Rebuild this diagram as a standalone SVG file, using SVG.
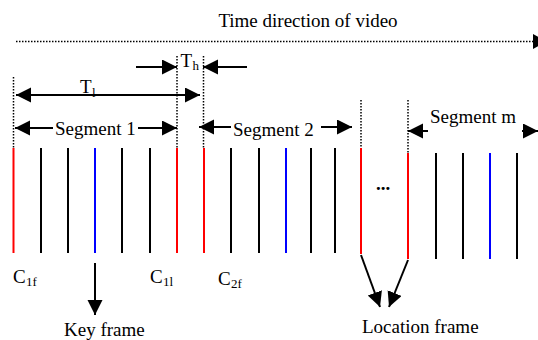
<svg xmlns="http://www.w3.org/2000/svg" width="538" height="340" viewBox="0 0 538 340">
<style>
text{font-family:"Liberation Serif","Times New Roman",serif;fill:#000}
.t{font-size:19px}
.s{font-size:13px}
.dot{stroke:#000;stroke-width:1.5;stroke-dasharray:1.5 1.5;fill:none}
.fr{stroke-width:2;fill:none}
.k{stroke:#000}
.r{stroke:#ff0000}
.b{stroke:#0000ff}
.ar{stroke:#000;stroke-width:2;fill:none}
</style>
<defs>
<marker id="ah" markerUnits="userSpaceOnUse" markerWidth="16" markerHeight="16" refX="15" refY="7.5" orient="auto-start-reverse" viewBox="0 0 16 16">
<path d="M0,0 L15,7.5 L0,15 z" fill="#000"/>
</marker>
</defs>
<rect width="538" height="340" fill="#fff"/>
<g id="timeline">
<text class="t" x="308" y="27" text-anchor="middle">Time direction of video</text>
<line class="dot" x1="16" y1="41.5" x2="533" y2="41.5"/>
<polygon points="533,34 533,49 547,41.5" fill="#000"/>
</g>
<g id="guides">
<line class="dot" x1="13.5" y1="77" x2="13.5" y2="148"/>
<line class="dot" x1="177" y1="56" x2="177" y2="148"/>
<line class="dot" x1="203.5" y1="56" x2="203.5" y2="148"/>
<line class="dot" x1="361" y1="100" x2="361" y2="148"/>
<line class="dot" x1="408" y1="100" x2="408" y2="153"/>
</g>
<g id="segment1">
<line class="fr r" x1="13.5" y1="148" x2="13.5" y2="253"/>
<line class="fr k" x1="41" y1="148" x2="41" y2="253"/>
<line class="fr k" x1="68" y1="148" x2="68" y2="253"/>
<line class="fr b" x1="95" y1="148" x2="95" y2="253"/>
<line class="fr k" x1="122" y1="148" x2="122" y2="253"/>
<line class="fr k" x1="150" y1="148" x2="150" y2="253"/>
<line class="fr r" x1="177" y1="148" x2="177" y2="253"/>
<text class="t" x="55" y="135">Segment 1</text>
</g>
<g id="segment2">
<line class="fr r" x1="204" y1="148" x2="204" y2="253"/>
<line class="fr k" x1="231" y1="148" x2="231" y2="253"/>
<line class="fr k" x1="259" y1="148" x2="259" y2="253"/>
<line class="fr b" x1="286" y1="148" x2="286" y2="253"/>
<line class="fr k" x1="311" y1="148" x2="311" y2="253"/>
<line class="fr k" x1="335" y1="148" x2="335" y2="253"/>
<line class="fr r" x1="361" y1="148" x2="361" y2="254"/>
<text class="t" x="233" y="136">Segment 2</text>
</g>
<g id="ellipsis">
<text class="t" x="383" y="190" text-anchor="middle" font-weight="bold">...</text>
</g>
<g id="segmentm">
<line class="fr r" x1="408" y1="153" x2="408" y2="259"/>
<line class="fr k" x1="436" y1="153" x2="436" y2="259"/>
<line class="fr k" x1="463" y1="153" x2="463" y2="259"/>
<line class="fr b" x1="490" y1="153" x2="490" y2="259"/>
<line class="fr k" x1="517" y1="153" x2="517" y2="259"/>
<text class="t" x="430" y="123">Segment m</text>
</g>
<g id="labels">
<text class="t" x="180.5" y="67">T</text><text class="s" x="192.5" y="70">h</text>
<text class="t" x="80" y="93">T</text><text class="s" x="92" y="97">l</text>
<text class="t" x="13" y="283">C</text><text class="s" x="26" y="286">1f</text>
<text class="t" x="150" y="283">C</text><text class="s" x="163" y="286">1l</text>
<text class="t" x="218" y="285">C</text><text class="s" x="231" y="288">2f</text>
<text class="t" x="64" y="336">Key frame</text>
<text class="t" x="362" y="333">Location frame</text>
</g>
<g id="connectors">
<line class="ar" x1="136" y1="67" x2="177" y2="67" marker-end="url(#ah)"/>
<line class="ar" x1="247" y1="67" x2="203" y2="67" marker-end="url(#ah)"/>
<line class="ar" x1="16" y1="95" x2="200" y2="95" marker-start="url(#ah)" marker-end="url(#ah)"/>
<line class="ar" x1="15" y1="128" x2="53" y2="128" marker-start="url(#ah)"/>
<line class="ar" x1="138" y1="128" x2="177" y2="128" marker-end="url(#ah)"/>
<line class="ar" x1="199" y1="127" x2="231" y2="127" marker-start="url(#ah)"/>
<line class="ar" x1="321" y1="127" x2="352" y2="127" marker-end="url(#ah)"/>
<line class="ar" x1="408" y1="131" x2="428" y2="131" marker-start="url(#ah)"/>
<line class="ar" x1="522" y1="131" x2="538" y2="131" marker-end="url(#ah)"/>
<line class="ar" x1="95" y1="263" x2="95" y2="315" marker-end="url(#ah)"/>
<line class="ar" x1="361" y1="255" x2="380" y2="307" marker-end="url(#ah)"/>
<line class="ar" x1="408" y1="260" x2="389" y2="307" marker-end="url(#ah)"/>
</g>
</svg>
